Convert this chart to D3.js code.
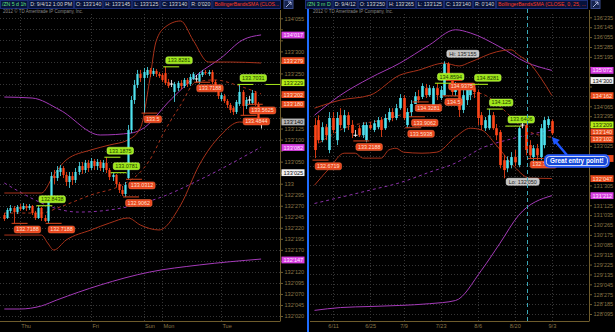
<!DOCTYPE html>
<html><head><meta charset="utf-8">
<script src="https://cdn.jsdelivr.net/npm/d3@7/dist/d3.min.js"></script>
<style>
html,body{margin:0;padding:0;background:#000;overflow:hidden}
svg{display:block}
</style></head><body>
<svg id="chart" width="615" height="332"></svg>
<script>
// ================= DATA =================
const leftHeader  = ["/ZN 5 d 1h","D: 9/4/12 1:00 PM","O: 133'140","H: 133'145","L: 133'125","C: 133'140","R: 0'020","BollingerBandsSMA (CLOS..."];
const rightHeader = ["/ZN 3 m D","D: 9/4/12","O: 133'250","H: 133'265","L: 133'125","C: 133'140","R: 0'140","BollingerBandsSMA (CLOSE, 0, 25, ..."];
const copyright = "2012 \u00A9 TD Ameritrade IP Company, Inc.";

const leftTicks = ["134'055","134'030","134'005","133'300","133'275","133'250","133'225","133'200","133'175","133'150","133'125","133'100","133'075","133'050","133'025","133","132'295","132'270","132'245","132'220","132'195","132'170","132'145","132'120","132'095","132'070","132'045","132'020"];
const rightTicks = ["136'235","136'145","136'055","135'285","135'195","135'105","135'015","134'245","134'155","134'065","133'295","133'205","133'115","133'025","132'255","132'165","132'075","131'305","131'215","131'125","131'035","130'265","130'175","130'085","129'315","129'225","129'135","129'045","128'275","128'185","128'095"];

const leftDays = ["Thu","Fri","Sun","Mon","Tue"];
const leftDayBar = [5,28,45,51,70];
const rightDates = ["6/11","6/25","7/9","7/23","8/6","8/20","9/3"];
const rightDateBar = [5,15,24,34,44,54,64];

// hourly bars [open, high, low, close]
const leftCandles = [
[132.778,132.792,132.736,132.750],[132.757,132.828,132.750,132.814],[132.807,132.849,132.792,132.828],[132.828,132.842,132.7188,132.799],
[132.799,132.849,132.785,132.835],[132.835,132.856,132.807,132.821],[132.821,132.863,132.814,132.842],[132.842,132.856,132.807,132.828],
[132.828,132.856,132.814,132.842],[132.842,132.849,132.778,132.792],[132.792,132.807,132.743,132.757],[132.757,132.8438,132.750,132.828],
[132.828,132.835,132.736,132.757],[132.757,132.778,132.729,132.736],[132.736,132.906,132.7188,132.884],[132.884,133.083,132.870,133.054],
[133.054,133.097,132.998,133.040],[133.040,133.125,133.019,133.097],[133.083,133.132,133.054,133.111],[133.111,133.125,133.040,133.062],
[133.062,133.083,132.984,133.012],[133.012,133.083,132.970,133.054],[133.054,133.083,132.991,133.026],[133.026,133.111,133.005,133.083],
[133.083,133.154,133.062,133.125],[133.125,133.154,133.069,133.097],[133.097,133.168,133.076,133.147],[133.147,133.168,133.083,133.111],
[133.111,133.182,133.097,133.161],[133.161,133.175,133.097,133.125],[133.125,133.175,133.097,133.154],[133.154,133.168,133.090,133.111],
[133.111,133.168,133.083,133.147],[133.147,133.1875,133.076,133.097],[133.097,133.111,133.026,133.047],[133.047,133.0781,133.019,133.062],
[133.062,133.069,132.977,132.998],[132.998,133.012,132.934,132.955],[132.955,132.984,132.913,132.927],[132.927,133.012,132.9062,132.991],
[133.040,133.416,133.0312,133.380],[133.380,133.621,133.359,133.593],[133.593,133.735,133.565,133.699],[133.699,133.806,133.678,133.777],
[133.777,133.806,133.721,133.749],[133.749,133.820,133.500,133.791],[133.770,133.827,133.749,133.806],[133.806,133.820,133.756,133.777],
[133.777,133.820,133.763,133.799],[133.799,133.813,133.756,133.777],[133.777,133.791,133.749,133.763],[133.770,133.784,133.721,133.735],
[133.784,133.8281,133.699,133.714],[133.721,133.742,133.678,133.692],[133.706,133.735,133.685,133.706],[133.650,133.721,133.579,133.706],
[133.678,133.728,133.657,133.714],[133.714,133.735,133.671,133.692],[133.692,133.749,133.678,133.735],[133.735,133.749,133.685,133.706],
[133.706,133.777,133.692,133.756],[133.742,133.791,133.735,133.777],[133.742,133.770,133.7188,133.742],[133.721,133.791,133.706,133.777],
[133.770,133.806,133.756,133.791],[133.791,133.806,133.770,133.784],[133.777,133.806,133.763,133.791],[133.791,133.806,133.706,133.721],
[133.721,133.735,133.650,133.664],[133.664,133.678,133.600,133.621],[133.600,133.643,133.586,133.628],[133.621,133.636,133.572,133.586],
[133.586,133.600,133.536,133.558],[133.558,133.572,133.501,133.522],[133.536,133.551,133.487,133.508],[133.508,133.593,133.494,133.579],
[133.565,133.7031,133.551,133.650],[133.650,133.664,133.4844,133.551],[133.551,133.614,133.529,133.593],[133.593,133.621,133.5625,133.593],
[133.572,133.664,133.558,133.643],[133.643,133.657,133.551,133.565],[133.565,133.579,133.451,133.465],[133.4375,133.4531,133.3906,133.4375]
];

// daily bars [open, high, low, close]
const rightCandles = [
[133.67,133.87,132.73,132.96],[133.81,133.95,133.15,133.24],[133.24,133.75,133.18,133.61],[133.61,133.70,133.24,133.38],
[132.96,134.04,132.87,133.87],[133.87,134.04,133.44,133.53],[133.24,134.04,133.10,133.87],[133.95,134.15,133.58,133.67],
[133.58,134.10,133.47,133.95],[133.95,134.04,133.53,133.67],[133.67,133.81,133.30,133.44],[133.38,133.53,133.33,133.38],
[133.58,133.67,133.33,133.38],[133.38,133.75,133.30,133.67],[133.24,133.75,133.18,133.67],[133.67,133.75,133.53,133.58],
[133.53,133.81,133.47,133.72],[133.61,133.90,133.55,133.81],[133.81,133.90,133.33,133.53],[133.58,133.98,133.53,133.87],
[133.81,134.15,133.75,134.04],[134.04,134.15,133.78,133.87],[133.87,134.27,133.81,134.15],[134.15,134.55,134.10,134.44],
[134.44,134.52,133.81,133.87],[133.67,134.15,133.5938,134.04],[134.04,134.38,133.9062,134.27],[134.27,134.61,134.3281,134.49],
[134.49,134.67,134.30,134.38],[134.47,134.86,134.41,134.78],[134.72,134.84,134.44,134.52],[134.52,134.81,134.47,134.72],
[134.24,134.78,134.18,134.72],[134.72,134.8594,134.38,134.52],[134.44,134.78,134.38,134.67],[134.52,135.484,134.50,135.41],
[135.41,135.46,134.9375,135.09],[135.09,135.15,134.52,134.61],[134.61,134.89,134.49,134.81],[134.81,134.86,133.90,134.10],
[134.10,134.67,134.01,134.52],[134.38,134.75,134.24,134.67],[134.52,134.78,134.38,134.72],[134.72,134.8281,134.44,134.61],
[134.61,134.67,133.67,133.87],[133.95,134.04,133.53,133.67],[133.58,133.90,133.50,133.81],[133.58,134.125,133.53,133.95],
[133.95,134.04,133.53,133.58],[133.58,133.70,133.24,133.38],[133.47,133.53,132.44,132.53],[132.67,132.81,132.156,132.39],
[132.44,132.78,132.33,132.67],[132.53,132.90,132.44,132.76],[132.76,132.96,132.50,132.61],[132.53,133.64,132.47,133.58],
[133.67,133.75,133.58,133.67],[133.67,133.72,132.81,132.96],[133.10,133.24,132.7188,132.81],[132.76,133.10,132.61,133.01],
[133.01,133.13,132.67,132.81],[132.76,133.70,132.67,133.58],[133.10,133.90,133.01,133.81],[133.67,133.92,133.58,133.84],
[133.78125,133.828,133.39,133.4375]
];

// study lines as [bar, price]
const leftUpperBB = [[0,132.934],[12,132.934],[16,133.062],[20,133.168],[28,133.239],[34,133.274],[40,133.310],[44,133.395],[47,133.735],[49,134.004],[52,134.110],[57,134.153],[61,134.018],[66,133.862],[73,133.862],[83,133.855]];
const leftMidBB   = [[0,132.792],[12,132.792],[18,132.835],[28,132.920],[38,132.991],[44,133.083],[47,133.168],[52,133.380],[57,133.558],[62,133.721],[68,133.735],[76,133.692],[83,133.636]];
const leftLowerBB = [[0,132.636],[12,132.636],[14,132.580],[16,132.530],[20,132.601],[28,132.672],[34,132.721],[40,132.757],[44,132.707],[50,132.672],[57,132.849],[63,133.132],[70,133.345],[76,133.437],[83,133.416]];
const leftUpperK  = [[0,133.614],[9,133.607],[18,133.522],[31,133.345],[41,133.359],[44,133.380],[54,133.600],[63,133.784],[70,133.890],[77,134.018],[83,134.054]];
const leftMidK    = [[0,133.005],[24,132.799],[50,132.899],[63,133.026],[83,133.260]];
const leftLowerK  = [[0,132.112],[5,132.112],[12,132.134],[17,132.176],[31,132.282],[47,132.374],[63,132.424],[83,132.466]];

const rightUpperBB = [[0,134.15],[7,134.38],[15,134.52],[23,135.09],[28,135.23],[35,135.43],[39,135.35],[42,135.46],[49,135.75],[53,135.81],[55,135.66],[58,135.43],[61,135.01],[64,134.51]];
const rightMidBB   = [[0,133.07],[8,133.58],[18,133.81],[26,134.04],[34,134.27],[38,134.38],[44,134.58],[49,134.30],[53,133.90],[57,133.53],[64,133.32]];
const rightLowerBB = [[0,131.96],[4,132.44],[8,132.87],[11,132.87],[13,132.73],[18,132.73],[20,132.96],[22,133.01],[24,132.90],[29,132.87],[33,132.90],[38,133.33],[42,133.58],[45,133.53],[49,133.10],[54,132.47],[58,132.16],[64,132.15]];
const rightUpperK  = [[0,133.95],[7,134.52],[15,135.01],[23,135.43],[31,135.95],[38,136.38],[42,136.29],[50,135.89],[57,135.46],[64,135.225]];
const rightMidK    = [[0,131.44],[15,131.82],[23,132.03],[31,132.33],[38,132.59],[45,133.01],[54,133.30],[64,133.53]];
const rightLowerK  = [[0,128.40],[7,128.48],[15,128.51],[23,128.54],[31,128.59],[38,128.68],[45,129.54],[50,130.31],[55,131.10],[64,131.6625]];

// pivot bubbles: [kind, bar, price, text]
const leftPivots = [
["lo",3,132.7188,"132.7188"],["lo",14,132.7188,"132.7188"],["hi",11,132.8438,"132.8438"],
["hi",33,133.1875,"133.1875"],["hi",35,133.0781,"133.0781"],["lo",40,133.0312,"133.0312"],
["lo",39,132.9062,"132.9062"],["lo",45,133.5,"133.5"],["hi",52,133.8281,"133.8281"],
["lo",62,133.7188,"133.7188"],["hi",76,133.7031,"133.7031"],["lo",79,133.5625,"133.5625"],["lo",77,133.4844,"133.4844"]
];
const rightPivots = [
["lo",0,132.6719,"132.6719"],["lo",11,133.2188,"133.2188"],["lo",25,133.5938,"133.5938"],["lo",26,133.9062,"133.9062"],
["lo",27,134.3281,"134.3281"],["lo",35,134.5,"134.5"],["lo",36,134.9375,"134.9375"],["hi",33,134.8594,"134.8594"],
["hi",43,134.8281,"134.8281"],["hi",47,134.125,"134.125"],["hi",52,133.6406,"133.6406"],["lo",58,132.7188,"132.7188"]
];
const rightExtremes = [["hi",35,135.484,"Hi: 135'155"],["lo",51,132.156,"Lo: 132'050"]];

// price marks on the axes: [label, kind]
const leftMarks = [["134'017","k"],["133'279","b"],["133'229","g"],["133'202","b"],["133'180","b"],["133'140","p"],["133'082","k"],["133'025","w"],["132'147","k"]];
const rightMarks = [["135'072","k"],["134'300","w"],["134'162","b"],["133'209","g"],["133'140","b"],["133'102","b"],["132'230","b"],["132'047","b"],["131'212","k"]];

const noteText = "Great entry point!";
const noteTarget = [64, 133.33];
const markerBar = 57.4;

// ================= DRAWING =================
const svg = d3.select("#chart");
svg.append("rect").attr("width",615).attr("height",332).attr("fill","#000");
const FONT = "Liberation Sans, Arial, sans-serif";
const AXC = "#6e5c2c", LBL = "#8a7648", GRID = "#363636";
const UP = "#4fe3f0", DN = "#ff4619";
const BB = "#a8321a", KC = "#a43ab8";
const markColors = {k:["#d63ee0","#ffe6ff"], b:["#ea4a1c","#ffe2d4"], g:["#b6ee18","#203000"], p:["#b4b4b4","#111"], w:["#f2f2f2","#111"]};

function parse32(s){ const p = s.split("'"); return +p[0] + (p.length>1 ? (+p[1])/10/32 : 0); }

function header(items, x0, x1){
  const g = svg.append("g");
  let x = x0;
  items.forEach((t,i)=>{
    const last = i===items.length-1;
    const tx = g.append("text").attr("x",x+2).attr("y",6).attr("font-family",FONT).attr("font-size",5.2)
      .attr("fill", i===0 ? "#5ee07a" : (last ? "#ff3a1e" : "#d8d8d8")).text(t);
    let w = tx.node().getComputedTextLength()+4;
    if (last){
      const avail = x1 - x;
      if (w > avail) tx.attr("textLength", avail-4).attr("lengthAdjust","spacingAndGlyphs");
      w = avail;
    }
    g.insert("rect","text").attr("x",x+0.5).attr("y",0.5).attr("width",w-1).attr("height",8).attr("fill","#07123a").attr("stroke","#1c2f78").attr("stroke-width",1);
    x += w;
  });
  svg.append("rect").attr("x",x1+3).attr("y",0.5).attr("width",9).attr("height",8).attr("fill","#16244e").attr("stroke","#3a4c8c");
  svg.append("path").attr("d",`M${x1+5},7 L${x1+10},2 M${x1+7},2 L${x1+10},2 L${x1+10},5`).attr("stroke","#d0d8ff").attr("fill","none").attr("stroke-width",0.8);
}

function drawPanel(c){
  const g = svg.append("g");
  const y = d3.scaleLinear().domain([parse32(c.ticks[c.ticks.length-1]), parse32(c.ticks[0])]).range([c.yLo, c.yHi]);
  const x = d3.scaleLinear().domain([0, c.candles.length-1]).range([c.xFirst, c.xLast]);
  const cid = "clip"+c.name;
  svg.append("clipPath").attr("id",cid).append("rect").attr("x",c.L).attr("y",c.top).attr("width",c.R-c.L).attr("height",c.bottom-c.top);

  g.append("text").attr("x",c.L+3).attr("y",c.top+2.6).attr("font-family",FONT).attr("font-size",4.5).attr("fill","#8a8a8a").text(copyright);

  // grid
  const grid = g.append("g");
  grid.selectAll("line.h").data(c.ticks).join("line").attr("class","h")
    .attr("x1",c.L).attr("x2",c.R).attr("y1",d=>Math.round(y(parse32(d)))+0.5).attr("y2",d=>Math.round(y(parse32(d)))+0.5)
    .attr("stroke",GRID).attr("stroke-dasharray","1,2");
  grid.selectAll("line.v").data(c.xBars).join("line").attr("class","v")
    .attr("x1",d=>Math.round(x(d))+0.5).attr("x2",d=>Math.round(x(d))+0.5).attr("y1",c.top+4).attr("y2",c.bottom)
    .attr("stroke",GRID).attr("stroke-dasharray","1,2");

  // price marks, spread apart where they would collide
  const marks = c.marks.map(m=>({t:m[0], k:m[1], y:y(parse32(m[0]))})).sort((a,b)=>a.y-b.y);
  for (let it=0; it<6; it++) for (let i=1;i<marks.length;i++){
    const d = marks[i].y - marks[i-1].y;
    if (d < 7.2){ const s = (7.2-d)/2; marks[i].y += s; marks[i-1].y -= s; }
  }

  // y axis: hide tick labels covered by price marks or the note
  const hidden = v => marks.some(m=>Math.abs(m.y-y(v))<6.2) || (c.cover && y(v)>c.cover[0] && y(v)<c.cover[1]);
  const ya = d3.axisRight(y).tickValues(c.ticks.map(parse32)).tickFormat((d,i)=>hidden(d)?"":c.ticks[i]).tickSize(3).tickPadding(1.5);
  const yg = g.append("g").attr("transform",`translate(${c.R},0)`).call(ya);
  yg.select(".domain").remove();
  yg.selectAll("line").attr("stroke",AXC);
  yg.selectAll("text").attr("font-family",FONT).attr("font-size",5.6).attr("fill",LBL);
  g.append("line").attr("x1",c.R+0.5).attr("x2",c.R+0.5).attr("y1",c.top).attr("y2",c.bottom).attr("stroke",AXC);
  g.append("line").attr("x1",c.L).attr("x2",c.R+0.5).attr("y1",c.bottom+0.5).attr("y2",c.bottom+0.5).attr("stroke",AXC);

  // x axis
  const xa = d3.axisBottom(x).tickValues(c.xBars).tickFormat((d,i)=>c.xLabels[i]).tickSize(0).tickPadding(3.5);
  const xg = g.append("g").attr("transform",`translate(0,${c.bottom})`).call(xa);
  xg.select(".domain").remove();
  xg.selectAll("text").attr("font-family",FONT).attr("font-size",5.6).attr("fill",LBL).attr("text-anchor",c.xAnchor).attr("dx",c.xAnchor==="start"?1:0);

  const plot = g.append("g").attr("clip-path",`url(#${cid})`);

  if (c.marker!=null){
    g.append("line").attr("x1",Math.round(x(c.marker))+0.5).attr("x2",Math.round(x(c.marker))+0.5).attr("y1",c.top-1).attr("y2",c.bottom)
      .attr("stroke","#3aa8b8").attr("stroke-dasharray","4,3");
  }

  // study lines
  const line = d3.line().x(d=>x(d[0])).y(d=>y(d[1])).curve(d3.curveMonotoneX);
  c.lines.forEach(l=>{
    plot.append("path").attr("d",line(l.pts)).attr("fill","none").attr("stroke",l.color)
      .attr("stroke-width",1).attr("stroke-dasharray",l.dash||null);
  });

  // candles
  const bw = c.bodyW;
  const cg = plot.append("g");
  c.candles.forEach((d,i)=>{
    const [o,h,l,cl] = d;
    const col = cl>o ? UP : (cl<o ? DN : "#ffffff");
    const cx = Math.round(x(i));
    cg.append("line").attr("x1",cx+0.5).attr("x2",cx+0.5).attr("y1",y(h)).attr("y2",y(l)).attr("stroke",col).attr("stroke-width",1).attr("opacity",0.8);
    const yt = Math.min(y(o),y(cl)), hh = Math.max(1, Math.abs(y(o)-y(cl)));
    if (cl===o) cg.append("line").attr("x1",cx-1.5).attr("x2",cx+2.5).attr("y1",y(o)).attr("y2",y(o)).attr("stroke","#fff");
    else cg.append("rect").attr("x",cx+0.5-bw/2).attr("y",yt).attr("width",bw).attr("height",hh).attr("fill",col);
  });

  // pivots
  const pg = plot.append("g");
  c.pivots.forEach(p=>{
    const [kind,b,v,t] = p;
    const px = x(b), py = y(v);
    const hi = kind==="hi";
    pg.append("line").attr("x1",px-2).attr("x2",px+14).attr("y1",py).attr("y2",py).attr("stroke",hi?"#a6e61a":"#c8401a").attr("stroke-width",1.1);
    const tt = pg.append("text").attr("x",px+2.6).attr("y",hi?py-4.6:py+7.8).attr("font-family",FONT).attr("font-size",5.4)
      .attr("fill",hi?"#1e3a00":"#ffe0d0").text(t);
    const w = tt.node().getComputedTextLength()+4;
    pg.insert("rect","text").attr("x",px+0.6).attr("y",hi?py-10:py+2.6).attr("width",w).attr("height",7).attr("rx",2)
      .attr("fill",hi?"#9ee81a":"#e8461e").attr("stroke",hi?"#c8ff60":"#ff7040").attr("stroke-width",0.5);
  });
  (c.extremes||[]).forEach(p=>{
    const [kind,b,v,t] = p;
    const px = x(b)+2.5, py = y(v);
    const hi = kind==="hi";
    const tt = pg.append("text").attr("x",px+2.5).attr("y",hi?py-5.6:py+5.6).attr("font-family",FONT).attr("font-size",5.4).attr("fill","#222").text(t);
    const w = tt.node().getComputedTextLength()+5;
    pg.insert("rect","text").attr("x",px).attr("y",hi?py-11:py).attr("width",w).attr("height",7).attr("rx",2).attr("fill","#c4c4c4").attr("stroke","#eee").attr("stroke-width",0.5);
  });
  if (c.extendLast){
    const p = c.pivots.find(q=>q[3]===c.extendLast);
    plot.append("line").attr("x1",x(p[1])+26).attr("x2",c.R).attr("y1",y(p[2])).attr("y2",y(p[2])).attr("stroke","#a6e61a");
  }

  // axis price marks
  const mg = g.append("g");
  marks.forEach(m=>{
    mg.append("rect").attr("x",c.R+1.5).attr("y",m.y-3.4).attr("width",c.markW).attr("height",6.8).attr("fill",markColors[m.k][0]);
    if (!(c.cover && m.y>c.cover[0] && m.y<c.cover[1]))
      mg.append("text").attr("x",c.R+3.5).attr("y",m.y+2.1).attr("font-family",FONT).attr("font-size",5.6).attr("fill",markColors[m.k][1]).text(m.t);
  });
  return {x,y};
}

header(leftHeader, 0, 281);
header(rightHeader, 305, 588);

drawPanel({name:"L", L:0, R:280, top:10, bottom:321, yLo:316, yHi:18.3, ticks:leftTicks,
  candles:leftCandles, xFirst:4.3, xLast:261.1, bodyW:2.2,
  xBars:leftDayBar, xLabels:leftDays, xAnchor:"start",
  lines:[{pts:leftUpperK,color:KC},{pts:leftLowerK,color:KC},{pts:leftMidK,color:"#8a30a8",dash:"3,3"},
         {pts:leftUpperBB,color:BB},{pts:leftLowerBB,color:BB},{pts:leftMidBB,color:BB,dash:"3,3"}],
  pivots:leftPivots, marks:leftMarks, markW:23, extendLast:"133.7031"});

const yRightPre = d3.scaleLinear().domain([parse32(rightTicks[rightTicks.length-1]), parse32(rightTicks[0])]).range([314, 17.3]);
const noteY = yRightPre(noteTarget[1]);

const R = drawPanel({name:"R", L:310, R:589, top:10, bottom:321, yLo:314, yHi:17.3, ticks:rightTicks,
  candles:rightCandles, xFirst:314.5, xLast:551.9, bodyW:2.6,
  xBars:rightDateBar, xLabels:rightDates, xAnchor:"middle", marker:markerBar,
  lines:[{pts:rightUpperK,color:KC},{pts:rightLowerK,color:KC},{pts:rightMidK,color:"#8a30a8",dash:"3,3"},
         {pts:rightUpperBB,color:BB},{pts:rightLowerBB,color:BB},{pts:rightMidBB,color:BB,dash:"3,3"}],
  pivots:rightPivots, extremes:rightExtremes, marks:rightMarks, markW:23,
  cover:[noteY+16, noteY+31]});

// active-panel divider
svg.append("line").attr("x1",308).attr("x2",308).attr("y1",9).attr("y2",332).attr("stroke","#1f6dff").attr("stroke-width",2);

// annotation callout
const tx = R.x(noteTarget[0]), ty = R.y(noteTarget[1]);
const note = svg.append("g");
const bx = tx-7, by = ty+18;
note.append("line").attr("x1",tx+15).attr("y1",by).attr("x2",tx+3.5).attr("y2",ty+4.5).attr("stroke","#1e56ff").attr("stroke-width",2.4);
note.append("path").attr("d",d3.line()([[tx,ty],[tx+8,ty+3],[tx+2,ty+8]])).attr("fill","#1e56ff");
note.append("rect").attr("x",bx).attr("y",by).attr("width",64).attr("height",12).attr("rx",4).attr("fill","#1448d8").attr("stroke","#2a5cff").attr("stroke-width",1.5);
note.append("rect").attr("x",bx+1.5).attr("y",by+1.5).attr("width",61).attr("height",9).attr("rx",3).attr("fill","none").attr("stroke","#ffffff").attr("stroke-width",0.8);
note.append("text").attr("x",bx+32).attr("y",by+8.4).attr("text-anchor","middle").attr("font-family",FONT).attr("font-size",6.4).attr("font-weight","bold").attr("fill","#fff").text(noteText);
</script>
</body></html>
